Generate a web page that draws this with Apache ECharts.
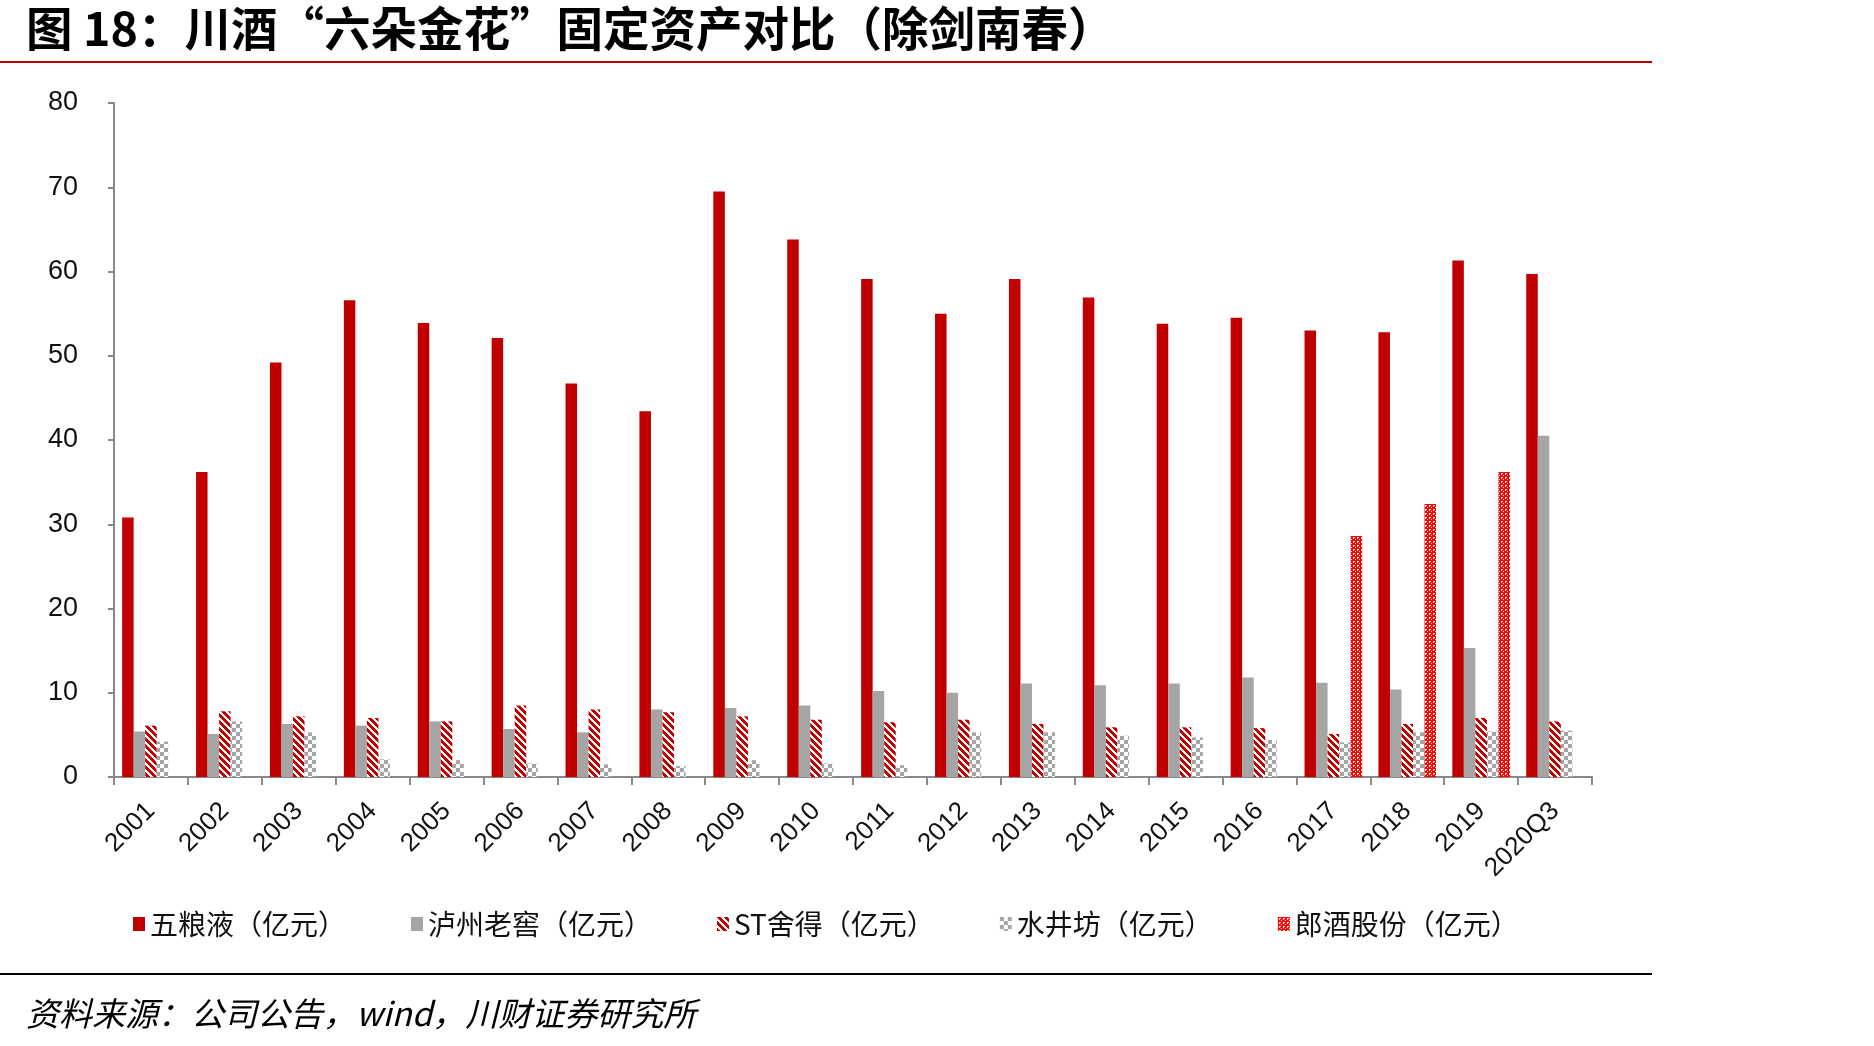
<!DOCTYPE html>
<html>
<head>
<meta charset="utf-8">
<script src="https://cdn.jsdelivr.net/npm/echarts@6/dist/echarts.min.js"></script>
<style>
html,body{margin:0;padding:0;background:#fff;}
#chart{width:1874px;height:1046px;}
</style>
</head>
<body>
<div id="chart"></div>
<script>
const categories = ['2001','2002','2003','2004','2005','2006','2007','2008','2009','2010','2011','2012','2013','2014','2015','2016','2017','2018','2019','2020Q3'];
const seriesNames = ['五粮液（亿元）','泸州老窖（亿元）','ST舍得（亿元）','水井坊（亿元）','郎酒股份（亿元）'];
const wuliangye = [30.8,36.2,49.2,56.6,53.9,52.1,46.7,43.4,69.5,63.8,59.1,55.0,59.1,56.9,53.8,54.5,53.0,52.8,61.3,59.7];
const luzhou = [5.4,5.1,6.3,6.1,6.6,5.7,5.3,8.0,8.2,8.5,10.2,10.0,11.1,10.9,11.1,11.8,11.2,10.4,15.3,40.5];
const shede = [6.1,7.8,7.2,7.0,6.6,8.5,8.0,7.7,7.2,6.8,6.5,6.8,6.3,5.9,5.9,5.8,5.1,6.3,7.0,6.6];
const shuijingfang = [4.2,6.6,5.3,2.1,2.0,1.6,1.5,1.3,2.0,1.6,1.4,5.3,5.3,4.9,4.7,4.4,4.1,5.3,5.4,5.5];
const langjiu = [null,null,null,null,null,null,null,null,null,null,null,null,null,null,null,null,28.6,32.4,36.2,null];
const yTicks = [0,10,20,30,40,50,60,70,80];

const RED = '#C00000', GREY = '#A5A5A5', BRIGHT = '#FF0000';

function makePattern(w, h, fn) {
  const c = document.createElement('canvas');
  c.width = w; c.height = h;
  const ctx = c.getContext('2d');
  for (let y = 0; y < h; y++) for (let x = 0; x < w; x++) {
    ctx.fillStyle = fn(x, y);
    ctx.fillRect(x, y, 1, 1);
  }
  return { image: c, repeat: 'repeat' };
}
const hatch = makePattern(7, 7, (x, y) => (((x - y) % 7 + 7) % 7) < 4 ? RED : '#ffffff');
const checker = makePattern(8, 8, (x, y) => ((Math.floor(x / 4) + Math.floor(y / 4)) % 2 === 0) ? GREY : '#ffffff');
const dotted = makePattern(4, 4, (x, y) => ((x === 1 && y === 1) || (x === 2 && y === 1) || (x === 1 && y === 2) || (x === 3 && y === 3)) ? '#ffffff' : BRIGHT);

const chart = echarts.init(document.getElementById('chart'));
const seriesData = [wuliangye, luzhou, shede, shuijingfang, langjiu];
const colors = [RED, GREY, hatch, checker, dotted];

chart.setOption({
  animation: false,
  backgroundColor: '#ffffff',
  grid: { left: 114, right: 282, top: 103, bottom: 269 },
  legend: {
    left: 133, top: 910, itemWidth: 12, itemHeight: 14, itemGap: 65, padding: 0,
    icon: 'rect',
    textStyle: { fontSize: 28, color: '#111', fontFamily: 'Noto Sans CJK SC' },
    data: seriesNames
  },
  xAxis: {
    type: 'category', data: categories,
    axisLine: { lineStyle: { color: '#898989', width: 2 } },
    axisTick: { show: true, length: 8, lineStyle: { color: '#898989', width: 2 } },
    axisLabel: { rotate: 45, margin: 30, fontSize: 26, color: '#111', fontFamily: 'Liberation Sans, Arial' }
  },
  yAxis: {
    type: 'value', min: 0, max: 80, interval: 10,
    axisLine: { show: true, lineStyle: { color: '#898989', width: 2 } },
    axisTick: { show: true, length: 6, lineStyle: { color: '#898989', width: 2 } },
    splitLine: { show: false },
    axisLabel: { margin: 36, fontSize: 27, color: '#111', fontFamily: 'Liberation Sans, Arial' }
  },
  series: seriesNames.map((n, i) => ({
    name: n, type: 'bar', data: seriesData[i],
    barGap: '0%', barCategoryGap: '22%',
    itemStyle: { color: colors[i] }
  })),
  graphic: [
    { type: 'text', left: 26, top: 5, style: { text: '图 18：川酒“六朵金花”固定资产对比（除剑南春）', font: 'bold 46.5px "Noto Sans CJK SC"', fill: '#000' } },
    { type: 'line', shape: { x1: 0, y1: 62, x2: 1652, y2: 62 }, style: { stroke: '#C00000', lineWidth: 2 } },
    { type: 'line', shape: { x1: 0, y1: 974, x2: 1652, y2: 974 }, style: { stroke: '#000', lineWidth: 2 } },
    { type: 'text', left: 26, top: 997, style: { text: '资料来源：公司公告，wind，川财证券研究所', font: 'italic 33px "Noto Sans CJK SC"', fill: '#000' } }
  ]
});
</script>
</body>
</html>
